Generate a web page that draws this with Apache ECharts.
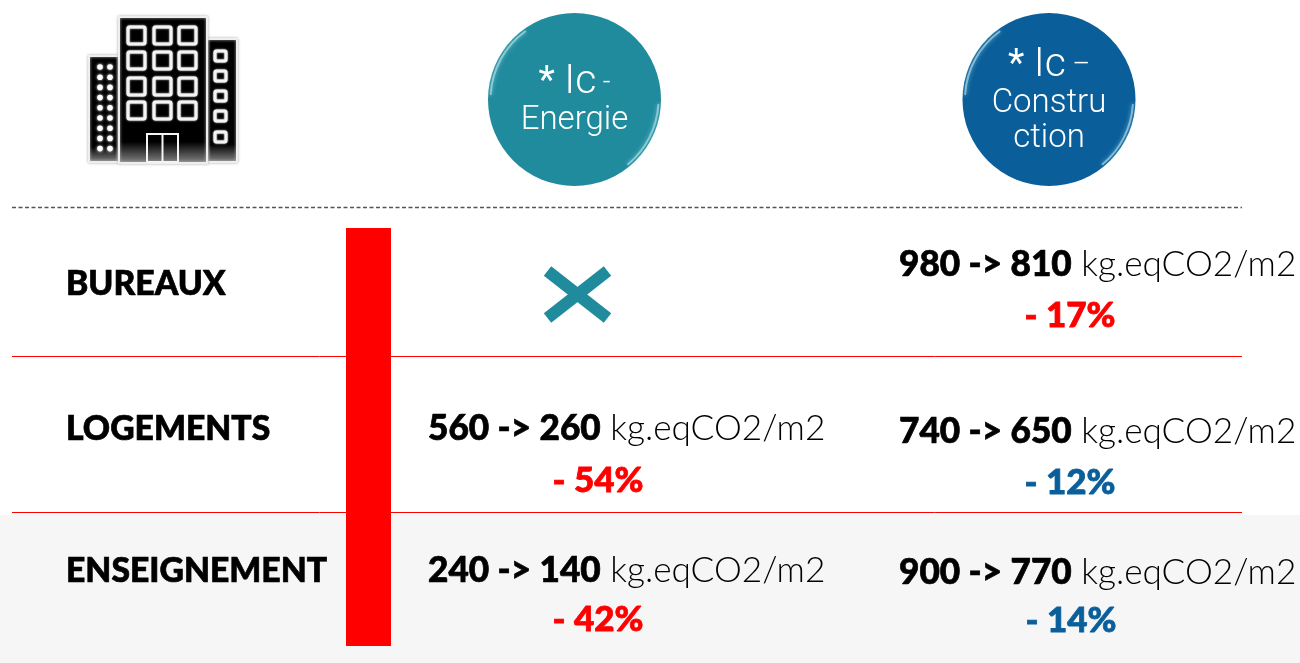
<!DOCTYPE html>
<html>
<head>
<meta charset="utf-8">
<title>Ic Energie / Ic Construction</title>
<script src="https://cdn.jsdelivr.net/npm/echarts@6/dist/echarts.min.js"></script>
<style>
  html, body { margin: 0; padding: 0; background: #fff; }
  #main { width: 1300px; height: 663px; }
</style>
</head>
<body>
<div id="main"></div>
<script>
    // data
    var rowNames = ['BUREAUX', 'LOGEMENTS', 'ENSEIGNEMENT'];
    var energieFrom = [null, 560, 240];
    var energieTo = [null, 260, 140];
    var energiePct = [null, 54, 42];
    var constructionFrom = [980, 740, 900];
    var constructionTo = [810, 650, 770];
    var constructionPct = [17, 12, 14];
    var unitLabel = 'kg.eqCO2/m2';
    var energieBadge = ['Energie'];
    var constructionBadge = ['Constru', 'ction'];

    // layout
    var TEAL = '#208b9d', BLUE = '#0a5f9a', RED = '#ff0000';
    var rowLabelY = [284, 429, 571];
    var energieY = [null, 429, 571];
    var energiePctY = [null, 481, 620];
    var energiePctX = 598;
    var constructionY = [265, 432, 573];
    var constructionPctY = [316, 483, 621];
    var constructionPctX = [1070, 1070, 1071];
    var pctColors = [RED, BLUE, BLUE];

    var els = [];

    function addRect(x, y, w, h, fill, extra, r) {
        var style = { fill: fill };
        for (var k in extra) { style[k] = extra[k]; }
        els.push({ type: 'rect', shape: { x: x, y: y, width: w, height: h, r: r || 0 }, style: style });
    }
    function addLine(x1, y1, x2, y2, color, width, dash) {
        els.push({
            type: 'line',
            shape: { x1: x1, y1: y1, x2: x2, y2: y2 },
            style: { stroke: color, lineWidth: width, lineDash: dash || null }
        });
    }
    function addText(text, x, y, size, weight, color, family, align, thick) {
        els.push({
            type: 'text', x: x, y: y,
            style: {
                text: text, fill: color, fontSize: size, fontWeight: weight,
                fontFamily: family || 'Lato', align: align || 'left', verticalAlign: 'middle',
                stroke: thick ? color : null, lineWidth: thick || 0
            }
        });
    }

    // fond gris + lignes
    addRect(0, 515, 1300, 148, '#f6f6f6');
    addLine(12, 207.5, 1242, 207.5, '#555555', 1.3, [4, 2.5]);
    addLine(12, 356.5, 1242, 356.5, RED, 1);
    addLine(12, 512.5, 1242, 512.5, RED, 1);
    addRect(346, 228, 45, 418, RED);

    // immeuble
    function drawBuilding() {
        var fade = {
            type: 'linear', x: 0, y: 0, x2: 0, y2: 1,
            colorStops: [{ offset: 0, color: '#000' }, { offset: 0.85, color: '#000' }, { offset: 1, color: '#8a8a8a' }]
        };
        var edge = { stroke: '#eeeeee', lineWidth: 2, shadowBlur: 3, shadowColor: '#bbb' };
        addRect(89, 56, 30, 106, fade, edge);
        addRect(207, 39, 30, 123, fade, edge);
        addRect(119, 17, 88, 146, fade, edge);
        var i, j;
        var winX = [128, 154, 179], winY = [27, 52, 78, 102];
        for (i = 0; i < winY.length; i++) {
            for (j = 0; j < winX.length; j++) {
                addRect(winX[j], winY[i], 17, 17, '#000', { stroke: '#f4f4f4', lineWidth: 3, shadowBlur: 2, shadowColor: '#fff' }, 1.5);
            }
        }
        var sideY = [51, 71, 91, 111, 132];
        for (i = 0; i < sideY.length; i++) {
            addRect(215, sideY[i], 11, 10, '#000', { stroke: '#f4f4f4', lineWidth: 3, shadowBlur: 2, shadowColor: '#fff' }, 1.5);
        }
        for (i = 0; i < 9; i++) {
            els.push({ type: 'circle', shape: { cx: 100, cy: 67 + i * 10.2, r: 2.8 }, style: { fill: '#fff', shadowBlur: 3, shadowColor: '#fff' } });
            els.push({ type: 'circle', shape: { cx: 110, cy: 67 + i * 10.2, r: 2.8 }, style: { fill: '#fff', shadowBlur: 3, shadowColor: '#fff' } });
        }
        addRect(147, 134, 31, 28, 'rgba(0,0,0,0)', { stroke: '#f4f4f4', lineWidth: 2 });
        addLine(162.5, 134, 162.5, 162, '#f4f4f4', 2);
    }
    drawBuilding();

    // pastilles
    function drawBadge(cx, cy, color, head, dash, lines, ys) {
        els.push({ type: 'circle', shape: { cx: cx, cy: cy, r: 86.5 }, style: { fill: color } });
        var glow = { stroke: 'rgba(200,240,245,0.55)', lineWidth: 2, lineCap: 'round', fill: 'none', shadowBlur: 4, shadowColor: '#bfeef5' };
        els.push({ type: 'arc', shape: { cx: cx, cy: cy, r: 84, startAngle: Math.PI * 1.02, endAngle: Math.PI * 1.3 }, style: glow });
        els.push({ type: 'arc', shape: { cx: cx, cy: cy, r: 84, startAngle: Math.PI * 0.02, endAngle: Math.PI * 0.28 }, style: glow });
        els.push({
            type: 'text', x: cx, y: head,
            style: {
                text: '{s|* }{i|Ic}{d| ' + dash + '}',
                align: 'center', verticalAlign: 'middle',
                rich: {
                    s: { fontFamily: 'Roboto', fontWeight: 400, fontSize: 38, fill: '#fff' },
                    i: { fontFamily: 'Roboto', fontWeight: 300, fontSize: 41, fill: '#fff' },
                    d: { fontFamily: 'Roboto', fontWeight: 300, fontSize: 27, fill: '#fff' }
                }
            }
        });
        for (var i = 0; i < lines.length; i++) {
            addText(lines[i], cx, ys[i], 33, 300, '#ffffff', 'Roboto', 'center');
        }
    }
    drawBadge(574.5, 99.5, TEAL, 83, '-', energieBadge, [121]);
    drawBadge(1049, 99.5, BLUE, 66, '–', constructionBadge, [104, 139]);

    // croix : pas de valeur pour les bureaux
    addLine(547.5, 271, 607.5, 318, TEAL, 12);
    addLine(607.5, 271, 547.5, 318, TEAL, 12);

    function valueText(from, to, x, y) {
        els.push({
            type: 'text', x: x, y: y,
            style: {
                text: '{b|' + from + ' -> ' + to + '}{l| ' + unitLabel + '}',
                verticalAlign: 'middle',
                rich: {
                    b: { fontFamily: 'Lato', fontWeight: 900, fontSize: 35.2, fill: '#000', stroke: '#000', lineWidth: 0.7 },
                    l: { fontFamily: 'Lato', fontWeight: 300, fontSize: 35.2, fill: '#000' }
                }
            }
        });
    }

    rowNames.forEach(function (name, i) {
        addText(name, 66, rowLabelY[i], 33.7, 900, '#000', 'Lato', 'left', 0.7);
        if (energieFrom[i] !== null) {
            valueText(energieFrom[i], energieTo[i], 428, energieY[i]);
            addText('- ' + energiePct[i] + '%', energiePctX, energiePctY[i], 35, 900, RED, 'Lato', 'center', 0.8);
        }
        valueText(constructionFrom[i], constructionTo[i], 899, constructionY[i]);
        addText('- ' + constructionPct[i] + '%', constructionPctX[i], constructionPctY[i], 35, 900, pctColors[i], 'Lato', 'center', 0.8);
    });

    var chart = echarts.init(document.getElementById('main'));
    chart.setOption({
        animation: false,
        backgroundColor: '#ffffff',
        graphic: { elements: els }
    });
</script>
</body>
</html>
